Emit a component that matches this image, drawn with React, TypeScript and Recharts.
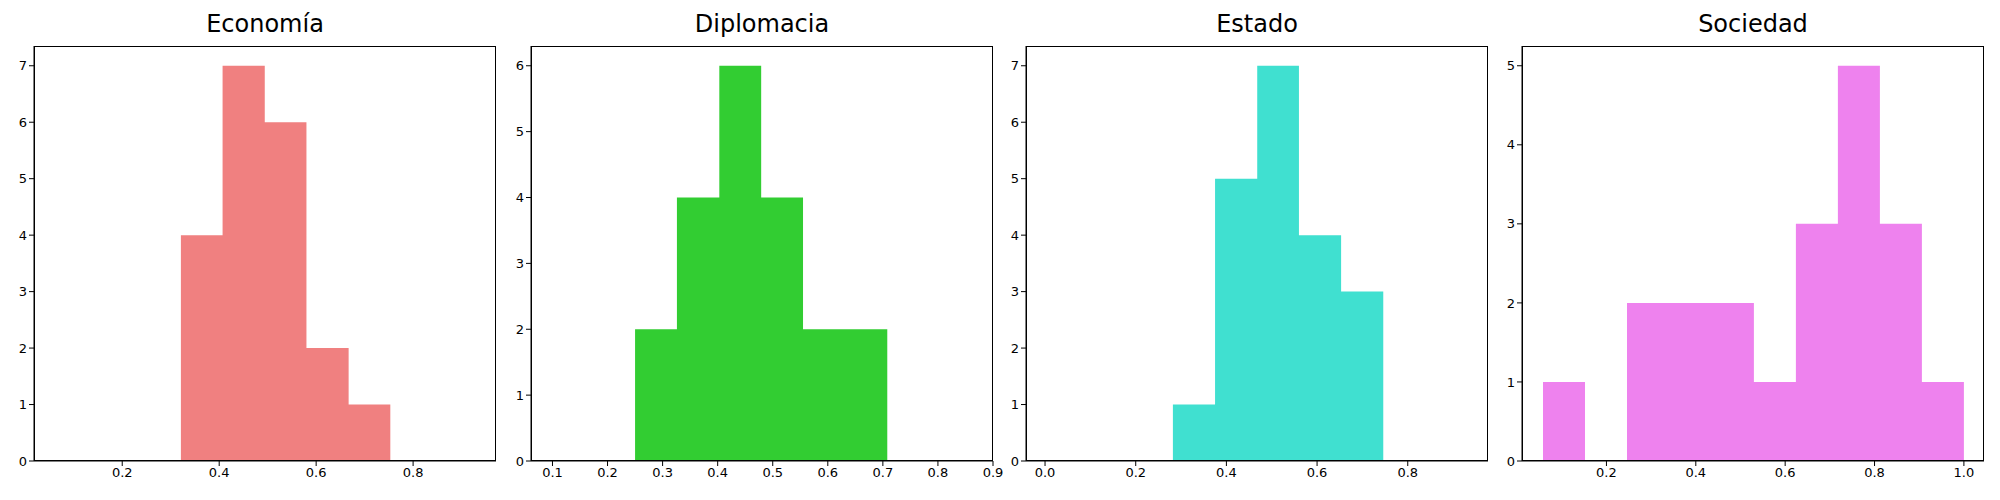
import { AreaChart, Area, XAxis, YAxis } from 'recharts';

const titles = ['Economía', 'Diplomacia', 'Estado', 'Sociedad'];
const colors = ['#F08080', '#32CD32', '#40E0D0', '#EE82EE'];

// bin edges and counts
const economiaEdges = [0.321, 0.407, 0.494, 0.58, 0.667, 0.753];
const economiaCounts = [4, 7, 6, 2, 1];
const diplomaciaEdges = [0.25, 0.326, 0.403, 0.479, 0.555, 0.632, 0.708];
const diplomaciaCounts = [2, 4, 6, 4, 2, 2];
const estadoEdges = [0.282, 0.375, 0.468, 0.56, 0.653, 0.746];
const estadoCounts = [1, 5, 7, 4, 3];
const sociedadEdges = [0.058, 0.152, 0.246, 0.341, 0.435, 0.53, 0.624, 0.718, 0.812, 0.906, 1.0];
const sociedadCounts = [1, 0, 2, 2, 2, 1, 3, 5, 3, 1];

const xDomains: [number, number][] = [[0.018, 0.971], [0.061, 0.9], [-0.042, 0.977], [0.011, 1.045]];
const yMax = [7.35, 6.3, 7.35, 5.25];
const xTicks = [
  [0.2, 0.4, 0.6, 0.8],
  [0.1, 0.2, 0.3, 0.4, 0.5, 0.6, 0.7, 0.8, 0.9],
  [0.0, 0.2, 0.4, 0.6, 0.8],
  [0.2, 0.4, 0.6, 0.8, 1.0],
];
const yTicks = [
  [0, 1, 2, 3, 4, 5, 6, 7],
  [0, 1, 2, 3, 4, 5, 6],
  [0, 1, 2, 3, 4, 5, 6, 7],
  [0, 1, 2, 3, 4, 5],
];

const edges = [economiaEdges, diplomaciaEdges, estadoEdges, sociedadEdges];
const counts = [economiaCounts, diplomaciaCounts, estadoCounts, sociedadCounts];

const plotLefts = [34, 531, 1026, 1522];
const plotWidth = 462;
const plotTop = 46;
const plotBottom = 461;
const yAxisWidth = 40;

function toSteps(e: number[], c: number[]) {
  return e.map((x, i) => ({ x, y: i < c.length ? c[i] : c[c.length - 1] }));
}

const tickStyle = { fill: '#000', fontSize: 13 };

export default function App() {
  return (
    <div style={{ position: 'absolute', left: 0, top: 0, width: 2000, height: 500, background: '#fff', fontFamily: 'DejaVu Sans' }}>
      {titles.map((t, i) => (
        <div key={t}>
          <div style={{ position: 'absolute', left: plotLefts[i], width: plotWidth, top: 10, textAlign: 'center', fontSize: 24 }}>
            {t}
          </div>
          <div style={{ position: 'absolute', left: plotLefts[i] - yAxisWidth }}>
            <AreaChart
              width={plotWidth + yAxisWidth + 10}
              height={500}
              data={toSteps(edges[i], counts[i])}
              margin={{ top: plotTop, right: 10, left: 0, bottom: 0 }}
            >
              <XAxis
                dataKey="x"
                type="number"
                domain={xDomains[i]}
                ticks={xTicks[i]}
                tickFormatter={(v: number) => v.toFixed(1)}
                allowDataOverflow
                height={500 - plotBottom}
                stroke="#000"
                tick={tickStyle}
                tickSize={5}
              />
              <YAxis
                type="number"
                domain={[0, yMax[i]]}
                ticks={yTicks[i]}
                allowDataOverflow
                width={yAxisWidth}
                stroke="#000"
                tick={tickStyle}
                tickSize={5}
              />
              <Area
                type="stepAfter"
                dataKey="y"
                stroke="none"
                fill={colors[i]}
                fillOpacity={1}
                isAnimationActive={false}
              />
            </AreaChart>
          </div>
          <div
            style={{
              position: 'absolute',
              left: plotLefts[i],
              top: plotTop,
              width: plotWidth,
              height: plotBottom - plotTop,
              border: '1px solid #000',
              boxSizing: 'border-box',
              pointerEvents: 'none',
            }}
          />
        </div>
      ))}
    </div>
  );
}
